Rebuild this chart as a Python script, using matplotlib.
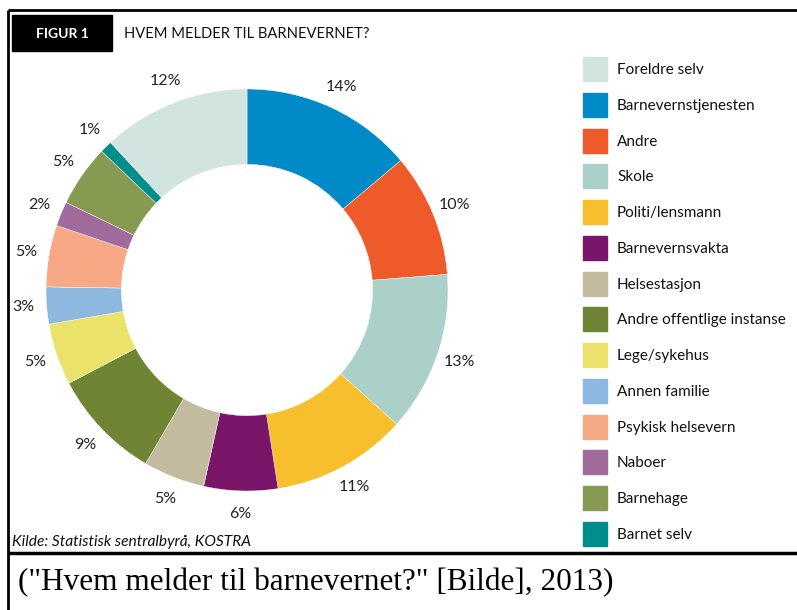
import matplotlib.pyplot as plt
from matplotlib.patches import Rectangle
import numpy as np

# Data (clockwise from 12 o'clock)
categories = ['Barnevernstjenesten', 'Andre', 'Skole', 'Politi/lensmann',
              'Barnevernsvakta', 'Helsestasjon', 'Andre offentlige instanse',
              'Lege/sykehus', 'Annen familie', 'Psykisk helsevern', 'Naboer',
              'Barnehage', 'Barnet selv', 'Foreldre selv']
shares = [14, 10, 13, 11, 6, 5, 9, 5, 3, 5, 2, 5, 1, 12]
colors = ['#008BC8', '#EF5A2B', '#ABCFC9', '#F7BE2E', '#7A166A', '#C3BBA0',
          '#6F8534', '#EAE26A', '#8DB9E0', '#F6A984', '#A06A9C', '#869A52',
          '#008E8C', '#D2E4E0']

# legend order as in the reference
legend_order = ['Foreldre selv', 'Barnevernstjenesten', 'Andre', 'Skole',
                'Politi/lensmann', 'Barnevernsvakta', 'Helsestasjon',
                'Andre offentlige instanse', 'Lege/sykehus', 'Annen familie',
                'Psykisk helsevern', 'Naboer', 'Barnehage', 'Barnet selv']

W, H = 797, 610
fig = plt.figure(figsize=(W / 100, H / 100), dpi=100)
fig.patch.set_facecolor('white')

# overlay axes in pixel coordinates for frame, titles and legend
bg = fig.add_axes([0, 0, 1, 1])
bg.set_xlim(0, W)
bg.set_ylim(H, 0)
bg.axis('off')

lw = 2.0
bg.plot([8, W + 5], [10, 10], color='black', lw=lw, solid_capstyle='butt')
bg.plot([8, 8], [10, H + 5], color='black', lw=lw, solid_capstyle='butt')
bg.plot([8, W + 5], [553, 553], color='black', lw=2.5, solid_capstyle='butt')

bg.add_patch(Rectangle((12.5, 15), 99.5, 35.5, color='black'))
bg.text(62, 33.5, 'FIGUR 1', color='white', fontsize=10, fontweight='bold',
        family='Lato', ha='center', va='center')
bg.text(124, 33.5, 'HVEM MELDER TIL BARNEVERNET?', color='#111111',
        fontsize=10.6, family='Lato', ha='left', va='center')

# legend
name_to_color = dict(zip(categories, colors))
for i, name in enumerate(legend_order):
    yc = 69 + i * 35.77
    bg.add_patch(Rectangle((583, yc - 12), 24, 24, color=name_to_color[name]))
    bg.text(617, yc + 1, name, fontsize=11, family='Lato', color='#111111',
            ha='left', va='center')

bg.text(12, 542, 'Kilde: Statistisk sentralbyrå, KOSTRA', fontsize=11.2,
        family='Lato', style='italic', color='#111111', ha='left', va='center')

bg.text(18, 583, '("Hvem melder til barnevernet?" [Bilde], 2013)',
        fontsize=22.5, family='Liberation Serif', color='black',
        ha='left', va='center')

# donut
cx, cy, r = 247, 290, 201
ax = fig.add_axes([(cx - r) / W, (H - cy - r) / H, 2 * r / W, 2 * r / H])
wedges, _ = ax.pie(shares, colors=colors, startangle=90, counterclock=False,
                   radius=1, wedgeprops=dict(width=0.375, edgecolor='white',
                                             linewidth=0.3))
ax.set_xlim(-1, 1)
ax.set_ylim(-1, 1)
ax.axis('off')
for w, v in zip(wedges, shares):
    ang = np.deg2rad((w.theta1 + w.theta2) / 2)
    ax.text(1.115 * np.cos(ang), 1.115 * np.sin(ang), f'{v}%', fontsize=11.5,
            family='Lato', color='#222222', ha='center', va='center')

plt.savefig('out.png', dpi=100)
